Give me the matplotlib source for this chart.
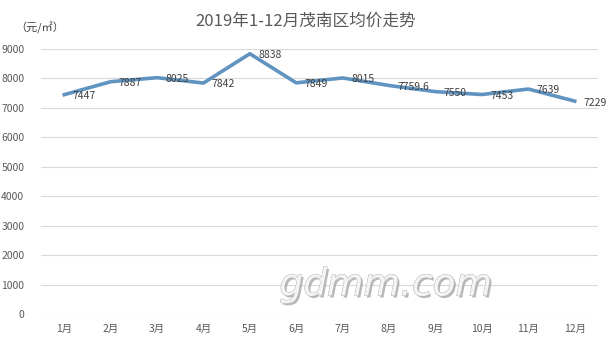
import matplotlib.pyplot as plt
import matplotlib.patheffects as pe

plt.rcParams['font.family'] = ['Noto Sans CJK SC', 'DejaVu Sans']

months = ['1月', '2月', '3月', '4月', '5月', '6月', '7月', '8月', '9月', '10月', '11月', '12月']
prices = [7447, 7887, 8025, 7842, 8838, 7849, 8015, 7759.6, 7550, 7453, 7639, 7229]
price_labels = ['7447', '7887', '8025', '7842', '8838', '7849', '8015', '7759.6', '7550', '7453', '7639', '7229']
y_ticks = list(range(0, 10000, 1000))

text_gray = '#595959'
line_blue = '#5f93c0'

fig = plt.figure(figsize=(6.12, 3.46), dpi=100)
ax = fig.add_axes([0.067, 0.0925, 0.910, 0.766])

x = list(range(len(months)))
ax.plot(x, prices, color=line_blue, linewidth=2.6, solid_joinstyle='round', zorder=3)

for xi, yi, lab in zip(x, prices, price_labels):
    ax.annotate(lab, (xi, yi), xytext=(6, -1), textcoords='offset points',
                ha='left', va='center', fontsize=7.5, color='#404040', zorder=4)

ax.set_xlim(-0.5, len(months) - 0.5)
ax.set_ylim(0, 9000)
ax.set_yticks(y_ticks)
ax.set_yticklabels([str(v) for v in y_ticks])
ax.set_xticks(x)
ax.set_xticklabels(months)
ax.tick_params(axis='both', length=0, labelsize=7.5, colors=text_gray)
ax.tick_params(axis='y', pad=12)
ax.tick_params(axis='x', pad=7)
ax.grid(axis='y', color='#d9d9d9', linewidth=0.8)
ax.set_axisbelow(True)
for s in ax.spines.values():
    s.set_visible(False)

fig.text(0.5, 0.94, '2019年1-12月茂南区均价走势', ha='center', va='center',
         fontsize=12, color=text_gray)
fig.text(0.065, 0.92, '（元/㎡）', ha='center', va='center', fontsize=8, color='#404040')

# site watermark
fig.text(0.63, 0.175, 'gdmm.com', ha='center', va='center', fontsize=27,
         family='DejaVu Sans', style='oblique', color='#f4f4f4', zorder=5,
         path_effects=[pe.withSimplePatchShadow(offset=(1.5, -1.5), shadow_rgbFace='#9a9a9a', alpha=0.7),
                       pe.Stroke(linewidth=0.7, foreground='#b5b5b5'), pe.Normal()])

fig.savefig('out.png', dpi=100)
